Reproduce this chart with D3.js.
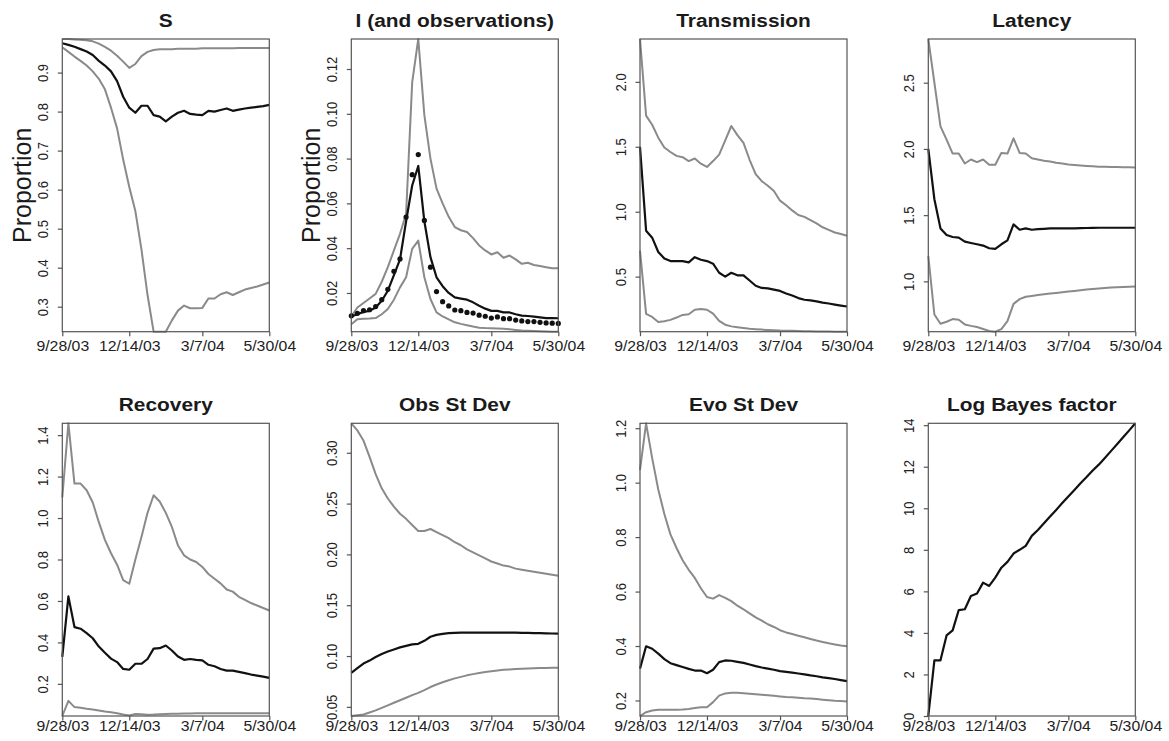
<!DOCTYPE html>
<html>
<head>
<meta charset="utf-8">
<script src="https://cdnjs.cloudflare.com/ajax/libs/d3/7.8.5/d3.min.js"></script>
<style>
body { margin: 0; background: #fff; }
svg { font-family: "Liberation Sans", Arial, Helvetica, sans-serif; }
</style>
</head>
<body>
<div id="viz"></div>
<script>
// weekly points, 9/28/03 .. 5/30/04
var xTickIdx = [0, 11, 23, 34];
var xTickLabels = ['9/28/03', '12/14/03', '3/7/04', '5/30/04'];

var sUpper = [0.986, 0.986, 0.985, 0.984, 0.983, 0.980, 0.974, 0.966, 0.956, 0.943, 0.928, 0.912, 0.922, 0.942, 0.953, 0.958, 0.960, 0.960, 0.960, 0.961, 0.961, 0.961, 0.961, 0.962, 0.962, 0.962, 0.962, 0.962, 0.962, 0.963, 0.963, 0.963, 0.963, 0.963, 0.963];
var sMid = [0.975, 0.971, 0.966, 0.960, 0.954, 0.945, 0.930, 0.918, 0.903, 0.878, 0.838, 0.810, 0.797, 0.815, 0.815, 0.791, 0.787, 0.775, 0.787, 0.797, 0.802, 0.794, 0.792, 0.791, 0.802, 0.800, 0.804, 0.808, 0.802, 0.805, 0.808, 0.810, 0.812, 0.814, 0.817];
var sLower = [0.965, 0.953, 0.941, 0.930, 0.918, 0.903, 0.884, 0.857, 0.810, 0.757, 0.677, 0.607, 0.545, 0.447, 0.330, 0.236, 0.236, 0.236, 0.265, 0.290, 0.303, 0.296, 0.296, 0.297, 0.321, 0.321, 0.332, 0.337, 0.330, 0.337, 0.344, 0.348, 0.352, 0.357, 0.362];

var iUpper = [0.0095, 0.0135, 0.0155, 0.0175, 0.0196, 0.025, 0.0315, 0.039, 0.0464, 0.0554, 0.114, 0.1334, 0.0994, 0.080, 0.0666, 0.060, 0.054, 0.0494, 0.048, 0.0472, 0.0445, 0.0412, 0.039, 0.0372, 0.0382, 0.0357, 0.0367, 0.035, 0.033, 0.0335, 0.0325, 0.032, 0.0315, 0.031, 0.031];
var iMid = [0.0095, 0.0105, 0.0115, 0.012, 0.0135, 0.0165, 0.021, 0.028, 0.035, 0.052, 0.068, 0.0767, 0.052, 0.036, 0.027, 0.023, 0.020, 0.018, 0.0175, 0.017, 0.0158, 0.0143, 0.013, 0.012, 0.012, 0.0113, 0.0113, 0.0105, 0.0099, 0.0097, 0.0094, 0.0091, 0.0088, 0.0088, 0.0087];
var iLower = [0.006, 0.0083, 0.0085, 0.0086, 0.0088, 0.0105, 0.0128, 0.017, 0.0225, 0.027, 0.0397, 0.0434, 0.027, 0.0173, 0.0113, 0.0095, 0.0082, 0.0069, 0.0062, 0.0056, 0.005, 0.0045, 0.0043, 0.0042, 0.0041, 0.004, 0.0038, 0.0035, 0.0032, 0.0031, 0.003, 0.0029, 0.0028, 0.0027, 0.0027];
var iObs = [0.0098, 0.0109, 0.0121, 0.0125, 0.0139, 0.017, 0.0216, 0.0297, 0.0352, 0.0539, 0.0728, 0.0818, 0.0524, 0.0315, 0.0206, 0.0161, 0.0142, 0.0124, 0.0121, 0.0113, 0.011, 0.0101, 0.0096, 0.0088, 0.0093, 0.0085, 0.0085, 0.0079, 0.0075, 0.0072, 0.0072, 0.0069, 0.0066, 0.0065, 0.0064];

var tUpper = [2.33, 1.74, 1.67, 1.57, 1.495, 1.46, 1.43, 1.42, 1.39, 1.41, 1.37, 1.345, 1.39, 1.44, 1.55, 1.66, 1.59, 1.53, 1.40, 1.29, 1.235, 1.20, 1.16, 1.085, 1.05, 1.01, 0.975, 0.96, 0.935, 0.91, 0.88, 0.86, 0.84, 0.828, 0.815];
var tMid = [1.5, 0.854, 0.80, 0.69, 0.64, 0.62, 0.62, 0.62, 0.61, 0.65, 0.63, 0.62, 0.60, 0.53, 0.50, 0.53, 0.51, 0.51, 0.47, 0.43, 0.413, 0.41, 0.40, 0.39, 0.37, 0.355, 0.335, 0.322, 0.317, 0.31, 0.30, 0.293, 0.285, 0.277, 0.27];
var tLower = [0.70, 0.213, 0.19, 0.15, 0.156, 0.167, 0.185, 0.205, 0.21, 0.245, 0.25, 0.245, 0.215, 0.16, 0.13, 0.117, 0.11, 0.104, 0.098, 0.095, 0.092, 0.09, 0.088, 0.085, 0.084, 0.083, 0.081, 0.08, 0.079, 0.078, 0.077, 0.077, 0.076, 0.076, 0.076];

var lUpper = [2.83, 2.50, 2.17, 2.07, 1.965, 1.965, 1.89, 1.92, 1.90, 1.92, 1.88, 1.88, 1.97, 1.965, 2.08, 1.97, 1.965, 1.93, 1.92, 1.91, 1.905, 1.895, 1.89, 1.882, 1.878, 1.875, 1.872, 1.869, 1.866, 1.865, 1.864, 1.863, 1.862, 1.861, 1.86];
var lMid = [2.0, 1.62, 1.40, 1.35, 1.335, 1.33, 1.30, 1.29, 1.28, 1.27, 1.25, 1.245, 1.28, 1.31, 1.43, 1.39, 1.40, 1.39, 1.395, 1.397, 1.40, 1.40, 1.40, 1.40, 1.40, 1.402, 1.403, 1.404, 1.405, 1.405, 1.405, 1.405, 1.405, 1.405, 1.405];
var lLower = [1.19, 0.75, 0.68, 0.695, 0.715, 0.71, 0.675, 0.664, 0.655, 0.64, 0.625, 0.62, 0.64, 0.70, 0.83, 0.866, 0.884, 0.89, 0.897, 0.903, 0.909, 0.913, 0.918, 0.924, 0.928, 0.933, 0.938, 0.942, 0.946, 0.95, 0.953, 0.956, 0.958, 0.96, 0.962];

var rUpper = [1.10, 1.457, 1.166, 1.166, 1.134, 1.075, 0.98, 0.895, 0.83, 0.775, 0.70, 0.683, 0.80, 0.909, 1.025, 1.11, 1.08, 1.025, 0.957, 0.868, 0.82, 0.80, 0.788, 0.764, 0.73, 0.707, 0.685, 0.655, 0.645, 0.62, 0.605, 0.59, 0.578, 0.566, 0.554];
var rMid = [0.33, 0.622, 0.474, 0.466, 0.445, 0.42, 0.38, 0.35, 0.322, 0.305, 0.272, 0.268, 0.297, 0.297, 0.32, 0.37, 0.372, 0.385, 0.361, 0.332, 0.316, 0.32, 0.316, 0.313, 0.292, 0.285, 0.272, 0.264, 0.264, 0.258, 0.252, 0.245, 0.24, 0.235, 0.229];
var rLower = [0.045, 0.118, 0.088, 0.085, 0.08, 0.076, 0.072, 0.067, 0.063, 0.058, 0.052, 0.047, 0.055, 0.053, 0.051, 0.052, 0.054, 0.055, 0.056, 0.056, 0.057, 0.057, 0.058, 0.058, 0.058, 0.058, 0.058, 0.058, 0.058, 0.058, 0.058, 0.058, 0.058, 0.058, 0.058];

var oUpper = [0.329, 0.322, 0.312, 0.296, 0.279, 0.265, 0.255, 0.247, 0.240, 0.235, 0.229, 0.223, 0.223, 0.225, 0.222, 0.219, 0.216, 0.212, 0.209, 0.205, 0.202, 0.199, 0.196, 0.193, 0.191, 0.189, 0.188, 0.186, 0.185, 0.184, 0.183, 0.182, 0.181, 0.180, 0.179];
var oMid = [0.0834, 0.088, 0.0926, 0.0955, 0.099, 0.102, 0.1045, 0.1065, 0.1085, 0.11, 0.1115, 0.112, 0.115, 0.119, 0.1208, 0.1218, 0.1225, 0.1228, 0.123, 0.123, 0.1231, 0.1231, 0.1231, 0.1231, 0.1231, 0.123, 0.123, 0.123, 0.1228, 0.1227, 0.1226, 0.1225, 0.1223, 0.1222, 0.122];
var oLower = [0.041, 0.0418, 0.0425, 0.0445, 0.0465, 0.049, 0.0515, 0.054, 0.0565, 0.059, 0.0615, 0.0638, 0.0665, 0.0695, 0.072, 0.0742, 0.0762, 0.078, 0.0795, 0.081, 0.0822, 0.0832, 0.0842, 0.085, 0.0858, 0.0864, 0.0868, 0.0872, 0.0876, 0.0878, 0.088, 0.0882, 0.0883, 0.0884, 0.0885];

var eUpper = [1.047, 1.218, 1.09, 0.975, 0.885, 0.81, 0.76, 0.715, 0.68, 0.65, 0.612, 0.58, 0.574, 0.587, 0.577, 0.565, 0.548, 0.535, 0.52, 0.505, 0.493, 0.48, 0.47, 0.458, 0.45, 0.444, 0.438, 0.432, 0.426, 0.42, 0.415, 0.41, 0.406, 0.402, 0.399];
var eMid = [0.317, 0.399, 0.39, 0.372, 0.352, 0.337, 0.33, 0.323, 0.316, 0.31, 0.31, 0.30, 0.313, 0.341, 0.347, 0.346, 0.342, 0.338, 0.332, 0.326, 0.321, 0.317, 0.313, 0.308, 0.305, 0.302, 0.299, 0.296, 0.292, 0.289, 0.285, 0.282, 0.279, 0.275, 0.271];
var eLower = [0.143, 0.157, 0.163, 0.166, 0.166, 0.166, 0.166, 0.167, 0.169, 0.172, 0.175, 0.175, 0.194, 0.218, 0.226, 0.228, 0.228, 0.227, 0.225, 0.223, 0.221, 0.219, 0.217, 0.215, 0.213, 0.212, 0.21, 0.208, 0.207, 0.205, 0.203, 0.201, 0.199, 0.198, 0.196];

var logBayes = [0, 2.68, 2.68, 3.88, 4.12, 5.1, 5.14, 5.78, 5.9, 6.42, 6.26, 6.66, 7.14, 7.42, 7.82, 8.0, 8.19, 8.67, 8.95, 9.28, 9.6, 9.92, 10.25, 10.57, 10.88, 11.2, 11.5, 11.82, 12.1, 12.42, 12.75, 13.08, 13.42, 13.75, 14.09];

var titles = ['S', 'I (and observations)', 'Transmission', 'Latency', 'Recovery', 'Obs St Dev', 'Evo St Dev', 'Log Bayes factor'];
var yTicks = [
    [0.3, 0.4, 0.5, 0.6, 0.7, 0.8, 0.9],
    [0.02, 0.04, 0.06, 0.08, 0.10, 0.12],
    [0.5, 1.0, 1.5, 2.0],
    [1.0, 1.5, 2.0, 2.5],
    [0.2, 0.4, 0.6, 0.8, 1.0, 1.2, 1.4],
    [0.05, 0.10, 0.15, 0.20, 0.25, 0.30],
    [0.2, 0.4, 0.6, 0.8, 1.0, 1.2],
    [0, 2, 4, 6, 8, 10, 12, 14]
];
var yFormats = ['.1f', '.2f', '.1f', '.1f', '.1f', '.2f', '.1f', 'd'];

var panels = [
    {lo: sLower, mid: sMid, hi: sUpper, ylab: 'Proportion'},
    {lo: iLower, mid: iMid, hi: iUpper, dots: iObs, ylab: 'Proportion'},
    {lo: tLower, mid: tMid, hi: tUpper},
    {lo: lLower, mid: lMid, hi: lUpper},
    {lo: rLower, mid: rMid, hi: rUpper},
    {lo: oLower, mid: oMid, hi: oUpper},
    {lo: eLower, mid: eMid, hi: eUpper},
    {mid: logBayes}
];

var width = 1169, height = 741;
var colLeft = [62.3, 351.3, 640, 928.3],
    rowTop = [39, 423.3],
    plotW = 207,
    plotH = 292.7,
    labelGap = [9, 5],
    stretch = 1.13;

var svg = d3.select('#viz').append('svg')
    .attr('width', width)
    .attr('height', height)
    .style('background', '#fff');

panels.forEach(function(p, i) {
    var row = Math.floor(i / 4);
    var g = svg.append('g')
        .attr('transform', 'translate(' + colLeft[i % 4] + ',' + rowTop[row] + ')');

    var all = p.mid.concat(p.lo || [], p.hi || []);
    var xScale = d3.scaleLinear()
        .domain([0, p.mid.length - 1])
        .range([0, plotW]);
    var yScale = d3.scaleLinear()
        .domain(d3.extent(all))
        .range([plotH, 0]);

    var line = d3.line()
        .x(function(d, j) { return xScale(j); })
        .y(function(d) { return yScale(d); });

    [p.hi, p.lo].forEach(function(s) {
        if (!s) return;
        g.append('path')
            .attr('d', line(s))
            .attr('fill', 'none')
            .attr('stroke', '#8a8a8a')
            .attr('stroke-width', 2)
            .attr('stroke-linejoin', 'round');
    });
    g.append('path')
        .attr('d', line(p.mid))
        .attr('fill', 'none')
        .attr('stroke', '#111')
        .attr('stroke-width', 2.2)
        .attr('stroke-linejoin', 'round');

    if (p.dots) {
        g.selectAll('circle').data(p.dots)
            .enter().append('circle')
            .attr('cx', function(d, j) { return xScale(j); })
            .attr('cy', function(d) { return yScale(d); })
            .attr('r', 2.6)
            .style('fill', '#111');
    }

    // box
    g.append('rect')
        .attr('width', plotW)
        .attr('height', plotH)
        .attr('fill', 'none')
        .attr('stroke', '#555')
        .attr('stroke-width', 1.2);

    var xAxis = g.append('g')
        .attr('transform', 'translate(0,' + plotH + ')')
        .call(d3.axisBottom(xScale)
            .tickValues(xTickIdx)
            .tickFormat(function(d, j) { return xTickLabels[j]; })
            .tickSizeInner(4.5).tickSizeOuter(0).tickPadding(labelGap[row] - 4.5));
    xAxis.select('.domain').remove();
    xAxis.selectAll('line').attr('stroke', '#555').attr('stroke-width', 1.2);
    xAxis.selectAll('text')
        .attr('dy', '0.72em')
        .attr('transform', 'scale(' + stretch + ',1)')
        .style('font-size', '14px')
        .style('fill', '#222')
        .style('font-family', '"Liberation Sans", Arial, sans-serif');

    var yAxis = g.append('g')
        .call(d3.axisLeft(yScale)
            .tickValues(yTicks[i])
            .tickFormat(d3.format(yFormats[i]))
            .tickSizeInner(4.5).tickSizeOuter(0));
    yAxis.select('.domain').remove();
    yAxis.selectAll('line').attr('stroke', '#555').attr('stroke-width', 1.2);
    yAxis.selectAll('text')
        .attr('x', 0)
        .attr('y', -14 / stretch)
        .attr('dy', 0)
        .attr('text-anchor', 'middle')
        .attr('transform', 'scale(' + stretch + ',1) rotate(-90)')
        .style('font-size', '13px')
        .style('fill', '#222')
        .style('font-family', '"Liberation Sans", Arial, sans-serif');

    g.append('text')
        .attr('transform', 'translate(' + (plotW / 2) + ',-12) scale(' + stretch + ',1)')
        .attr('text-anchor', 'middle')
        .style('font-size', '18.5px')
        .style('font-weight', 'bold')
        .style('fill', '#1a1a1a')
        .text(titles[i]);

    if (p.ylab) {
        g.append('text')
            .attr('transform', 'translate(-31,' + (plotH / 2) + ') rotate(-90)')
            .attr('text-anchor', 'middle')
            .style('font-size', '25px')
            .style('fill', '#1a1a1a')
            .text(p.ylab);
    }
});
</script>
</body>
</html>
